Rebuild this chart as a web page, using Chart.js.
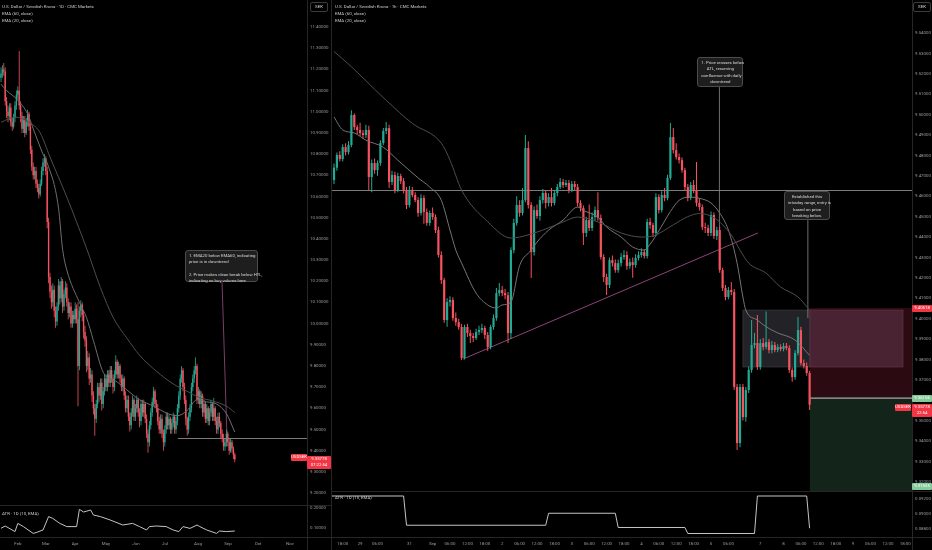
<!DOCTYPE html>
<html>
<head>
<meta charset="utf-8">
<script src="https://cdn.jsdelivr.net/npm/chart.js@4.4.1/dist/chart.umd.min.js"></script>
<style>
  html, body { margin: 0; padding: 0; background: #000; }
  #wrap { position: relative; width: 932px; height: 550px; overflow: hidden; background: #000;
          font-family: Roboto, "Liberation Sans", sans-serif; }
  canvas { position: absolute; }
  .sep { position: absolute; background: #262626; }
  .txt { position: absolute; color: #c9cbd1; font-size: 4.4px; line-height: 7px; white-space: nowrap; }
  .note { position: absolute; background: #1e1e1e; border: 1px solid #4c4c4c; border-radius: 3px; color: #d8d8d8;
          font-size: 4.3px; line-height: 6.3px; padding: 2px 3px; box-sizing: border-box; white-space: nowrap; }
  .tag { position: absolute; font-size: 4.3px; line-height: 6px; text-align: center; border-radius: 1px; white-space: nowrap; }
  .sek { position: absolute; width: 18px; height: 10px; border: 1px solid #3c3c3c; border-radius: 2px; box-sizing: border-box;
         color: #d1d4dc; font-size: 4.4px; line-height: 8px; text-align: center; }
</style>
</head>
<body>
<div id="wrap">
  <canvas id="dMain" width="331" height="505" style="left:0;top:0;width:331px;height:505px"></canvas>
  <canvas id="dAtr" width="331" height="45" style="left:0;top:505px;width:331px;height:45px"></canvas>
  <canvas id="hMain" width="600" height="491" style="left:332px;top:0;width:600px;height:491px"></canvas>
  <canvas id="hAtr" width="600" height="59" style="left:332px;top:491px;width:600px;height:59px"></canvas>

  <div class="sep" style="left:331px;top:0;width:1px;height:550px"></div>
  <div class="sep" style="left:307px;top:0;width:1px;height:550px"></div>
  <div class="sep" style="left:912px;top:0;width:1px;height:550px"></div>
  <div class="sep" style="left:0;top:505px;width:331px;height:1px"></div>
  <div class="sep" style="left:0;top:537px;width:331px;height:1px"></div>
  <div class="sep" style="left:332px;top:491px;width:600px;height:1px"></div>
  <div class="sep" style="left:332px;top:537px;width:600px;height:1px"></div>

  <div class="txt" style="left:2px;top:3px">U.S. Dollar / Swedish Krona · 1D · CMC Markets</div>
  <div class="txt" style="left:2px;top:10px">EMA (60, close)</div>
  <div class="txt" style="left:2px;top:17px">EMA (20, close)</div>
  <div class="txt" style="left:2px;top:510px">ATR · 1D (10, EMA)</div>
  <div class="txt" style="left:335px;top:3px">U.S. Dollar / Swedish Krona · 1h · CMC Markets</div>
  <div class="txt" style="left:335px;top:10px">EMA (60, close)</div>
  <div class="txt" style="left:335px;top:17px">EMA (20, close)</div>
  <div class="txt" style="left:335px;top:494px">ATR · 1D (10, EMA)</div>
  <div class="sek" style="left:310px;top:2px">SEK</div>
  <div class="sek" style="left:913px;top:2px">SEK</div>
</div>

<script>
// ---------- daily USDSEK (left) ----------
const dOpen = [11.16,11.18,11.20,11.19,11.05,11.00,10.98,11.02,10.95,10.93,
  10.97,11.03,11.08,11.10,11.03,10.98,10.92,10.96,10.90,10.95,
  10.99,10.93,10.82,10.74,10.70,10.72,10.66,10.64,10.61,10.66,
  10.72,10.76,10.78,10.72,10.48,10.22,10.15,10.10,10.16,10.06,
  10.01,10.08,10.18,10.12,10.20,10.08,10.14,10.17,10.10,10.05,
  10.08,10.00,10.04,10.02,10.07,10.02,9.80,10.06,10.09,10.04,
  9.96,9.92,9.80,9.84,9.74,9.76,9.66,9.60,9.55,9.62,
  9.70,9.66,9.72,9.62,9.68,9.74,9.70,9.76,9.72,9.78,
  9.74,9.70,9.76,9.82,9.76,9.80,9.74,9.70,9.74,9.66,
  9.60,9.64,9.56,9.52,9.58,9.64,9.56,9.60,9.64,9.58,
  9.54,9.62,9.58,9.62,9.55,9.48,9.44,9.52,9.58,9.63,
  9.68,9.62,9.60,9.54,9.50,9.55,9.48,9.44,9.50,9.56,
  9.52,9.55,9.50,9.53,9.56,9.50,9.54,9.60,9.66,9.74,
  9.78,9.70,9.64,9.55,9.50,9.56,9.60,9.70,9.74,9.78,
  9.80,9.64,9.68,9.62,9.66,9.58,9.62,9.55,9.60,9.54,
  9.58,9.62,9.56,9.60,9.54,9.50,9.56,9.53,9.48,9.46,
  9.42,9.44,9.48,9.44,9.40,9.44,9.41,9.38];
const dHigh = [11.21,11.22,11.23,11.21,11.07,11.03,11.04,11.04,10.97,10.99,
  11.05,11.10,11.12,11.287,11.05,11.00,10.98,10.98,10.97,11.01,
  11.00,10.95,10.84,10.76,10.74,10.74,10.68,10.66,10.68,10.74,
  10.78,10.80,10.79,10.74,10.50,10.24,10.18,10.19,10.18,10.08,
  10.10,10.21,10.20,10.22,10.21,10.16,10.20,10.19,10.12,10.10,
  10.10,10.06,10.06,10.10,10.09,10.10,10.08,10.11,10.10,10.06,
  9.99,9.94,9.87,9.86,9.79,9.78,9.68,9.62,9.64,9.72,
  9.72,9.74,9.74,9.70,9.76,9.76,9.78,9.78,9.80,9.80,
  9.76,9.78,9.85,9.83,9.82,9.81,9.76,9.76,9.75,9.68,
  9.66,9.66,9.58,9.60,9.66,9.65,9.62,9.66,9.65,9.60,
  9.64,9.64,9.64,9.63,9.57,9.50,9.54,9.60,9.65,9.70,
  9.69,9.64,9.62,9.56,9.57,9.57,9.50,9.52,9.58,9.58,
  9.57,9.56,9.55,9.58,9.57,9.56,9.62,9.68,9.76,9.80,
  9.79,9.72,9.66,9.56,9.58,9.62,9.72,9.76,9.80,9.84,
  9.81,9.70,9.69,9.68,9.67,9.64,9.63,9.62,9.61,9.60,
  9.64,9.63,9.65,9.61,9.56,9.58,9.58,9.54,9.50,9.48,
  9.46,9.50,9.49,9.46,9.46,9.45,9.42,9.39];
const dLow = [11.14,11.16,11.17,11.03,10.97,10.95,10.96,10.93,10.91,10.92,
  10.95,11.01,11.06,11.01,10.95,10.90,10.90,10.88,10.89,10.93,
  10.91,10.80,10.72,10.68,10.68,10.64,10.62,10.59,10.60,10.65,
  10.70,10.74,10.70,10.45,10.19,10.12,10.07,10.08,10.03,9.98,
  9.99,10.06,10.09,10.10,10.05,10.06,10.12,10.08,10.02,10.03,
  9.98,9.98,10.00,10.00,10.00,9.61,9.78,10.03,10.01,9.93,
  9.89,9.77,9.78,9.71,9.72,9.63,9.57,9.47,9.53,9.60,
  9.63,9.64,9.59,9.60,9.66,9.68,9.68,9.70,9.70,9.72,
  9.67,9.68,9.74,9.74,9.74,9.72,9.68,9.68,9.64,9.58,
  9.58,9.54,9.49,9.50,9.56,9.54,9.54,9.58,9.56,9.51,
  9.52,9.56,9.56,9.53,9.46,9.39,9.42,9.50,9.56,9.61,
  9.60,9.58,9.52,9.48,9.48,9.46,9.40,9.42,9.48,9.50,
  9.50,9.48,9.48,9.51,9.48,9.48,9.52,9.58,9.64,9.72,
  9.68,9.62,9.52,9.47,9.48,9.54,9.58,9.68,9.72,9.76,
  9.62,9.62,9.60,9.60,9.56,9.56,9.53,9.53,9.52,9.52,
  9.56,9.54,9.54,9.52,9.48,9.48,9.51,9.46,9.44,9.40,
  9.40,9.42,9.42,9.38,9.39,9.39,9.36,9.345];
const dClose = [11.18,11.20,11.19,11.05,11.00,10.98,11.02,10.95,10.93,10.97,
  11.03,11.08,11.10,11.03,10.98,10.92,10.96,10.90,10.95,10.99,
  10.93,10.82,10.74,10.70,10.72,10.66,10.64,10.61,10.66,10.72,
  10.76,10.78,10.72,10.48,10.22,10.15,10.10,10.16,10.06,10.01,
  10.08,10.18,10.12,10.20,10.08,10.14,10.17,10.10,10.05,10.08,
  10.00,10.04,10.02,10.07,10.02,9.80,10.06,10.09,10.04,9.96,
  9.92,9.80,9.84,9.74,9.76,9.66,9.60,9.55,9.62,9.70,
  9.66,9.72,9.62,9.68,9.74,9.70,9.76,9.72,9.78,9.74,
  9.70,9.76,9.82,9.76,9.80,9.74,9.70,9.74,9.66,9.60,
  9.64,9.56,9.52,9.58,9.64,9.56,9.60,9.64,9.58,9.54,
  9.62,9.58,9.62,9.55,9.48,9.44,9.52,9.58,9.63,9.68,
  9.62,9.60,9.54,9.50,9.55,9.48,9.44,9.50,9.56,9.52,
  9.55,9.50,9.53,9.56,9.50,9.54,9.60,9.66,9.74,9.78,
  9.70,9.64,9.55,9.50,9.56,9.60,9.70,9.74,9.78,9.80,
  9.64,9.68,9.62,9.66,9.58,9.62,9.55,9.60,9.54,9.58,
  9.62,9.56,9.60,9.54,9.50,9.56,9.53,9.48,9.46,9.42,
  9.44,9.48,9.44,9.40,9.44,9.41,9.38,9.358];

// EMA curves (bar index -> value)
const dEma60Idx = [0,10,21,28,35,47,61,71,80,90,99,111,123,133,142,151,161,167];
const dEma60 = [10.95,10.975,10.947,10.90,10.786,10.597,10.357,10.17,10.03,9.93,9.85,9.775,9.715,9.68,9.65,9.635,9.61,9.58];
const dEma20Idx = [0,4,12,19,23,30,33,41,44,47,56,61,66,73,83,90,99,109,119,126,133,140,147,154,161,167];
const dEma20 = [11.13,11.10,11.055,10.99,10.92,10.80,10.758,10.55,10.35,10.253,10.10,10.03,9.92,9.77,9.724,9.686,9.64,9.61,9.575,9.565,9.59,9.64,9.63,9.62,9.575,9.488];
const dAtrIdx = [0,3,10,12,16,23,25,30,34,37,42,47,54,56,59,64,66,71,78,87,94,99,104,106,111,118,123,127,130,135,140,142,147,154,156,161,167];
const dAtr = [0.0985,0.11,0.082,0.123,0.107,0.073,0.077,0.09,0.157,0.148,0.123,0.107,0.107,0.193,0.18,0.19,0.165,0.157,0.14,0.115,0.123,0.107,0.09,0.107,0.11,0.107,0.09,0.082,0.107,0.098,0.115,0.107,0.09,0.073,0.085,0.082,0.085];

const dPriceTicks = [9.2,9.3,9.4,9.5,9.6,9.7,9.8,9.9,10.0,10.1,10.2,10.3,10.4,10.5,10.6,10.7,10.8,10.9,11.0,11.1,11.2,11.3,11.4];
const dAtrTicks = [0.1,0.2];
const dMonthTicks = [12.1,32.1,52.9,75,96.4,117.1,140.7,162.1,183.6,206.4];
const dMonthLabels = ['Feb','Mar','Apr','May','Jun','Jul','Aug','Sep','Oct','Nov'];

// ---------- hourly USDSEK (right) ----------
const hOpen = [9.4679,9.4740,9.4802,9.4782,9.4841,9.4816,9.4851,9.4998,9.4939,9.4925,
  9.4910,9.4900,9.4925,9.4694,9.4763,9.4728,9.4763,9.4861,9.4920,9.4934,
  9.4670,9.4704,9.4630,9.4699,9.4674,9.4630,9.4557,9.4630,9.4606,9.4581,
  9.4518,9.4591,9.4523,9.4469,9.4518,9.4498,9.4434,9.4312,9.4189,9.3993,
  9.4081,9.4091,9.4003,9.3983,9.3959,9.3807,9.3959,9.3929,9.3915,9.3905,
  9.3934,9.3944,9.3954,9.3920,9.3861,9.3959,9.4003,9.4125,9.4140,9.4125,
  9.4115,9.3929,9.4336,9.4469,9.4557,9.4518,9.4581,9.4836,9.4557,9.4326,
  9.4532,9.4503,9.4581,9.4616,9.4567,9.4596,9.4567,9.4616,9.4645,9.4670,
  9.4655,9.4665,9.4630,9.4660,9.4645,9.4567,9.4542,9.4420,9.4483,9.4444,
  9.4498,9.4532,9.4493,9.4302,9.4204,9.4165,9.4287,9.4272,9.4238,9.4272,
  9.4302,9.4312,9.4258,9.4277,9.4263,9.4297,9.4312,9.4326,9.4307,9.4474,
  9.4459,9.4420,9.4596,9.4532,9.4606,9.4591,9.4689,9.4890,9.4826,9.4792,
  9.4777,9.4728,9.4645,9.4591,9.4655,9.4630,9.4567,9.4547,9.4449,9.4444,
  9.4420,9.4508,9.4405,9.4434,9.4238,9.4150,9.4106,9.4140,9.4130,9.3665,
  9.3390,9.3665,9.3517,9.3650,9.3748,9.3871,9.3880,9.3763,9.3880,9.3861,
  9.3885,9.3846,9.3871,9.3846,9.3861,9.3851,9.3866,9.3856,9.3748,9.3714,
  9.3831,9.3944,9.3782,9.3768,9.3733];
const hHigh = [9.4760,9.4815,9.4820,9.4855,9.4860,9.4870,9.5022,9.5005,9.4950,9.4960,
  9.4925,9.4950,9.4945,9.4780,9.4785,9.4775,9.4875,9.4935,9.4964,9.4950,
  9.4725,9.4720,9.4715,9.4710,9.4690,9.4645,9.4650,9.4645,9.4620,9.4595,
  9.4610,9.4605,9.4540,9.4530,9.4545,9.4510,9.4450,9.4330,9.4200,9.4100,
  9.4110,9.4105,9.4030,9.4000,9.3975,9.3970,9.3975,9.3945,9.3930,9.3950,
  9.3965,9.3975,9.3965,9.3935,9.3970,9.4020,9.4150,9.4175,9.4160,9.4145,
  9.4130,9.4350,9.4490,9.4600,9.4580,9.4640,9.4900,9.4870,9.4570,9.4550,
  9.4560,9.4600,9.4635,9.4630,9.4615,9.4640,9.4630,9.4660,9.4690,9.4685,
  9.4680,9.4680,9.4675,9.4675,9.4660,9.4580,9.4555,9.4500,9.4560,9.4520,
  9.4550,9.4620,9.4510,9.4315,9.4220,9.4300,9.4310,9.4290,9.4290,9.4320,
  9.4335,9.4330,9.4295,9.4300,9.4315,9.4330,9.4345,9.4340,9.4490,9.4495,
  9.4470,9.4615,9.4610,9.4625,9.4640,9.4705,9.4959,9.4934,9.4860,9.4810,
  9.4790,9.4740,9.4660,9.4670,9.4680,9.4768,9.4590,9.4560,9.4470,9.4460,
  9.4525,9.4520,9.4450,9.4450,9.4250,9.4165,9.4155,9.4180,9.4145,9.3680,
  9.3680,9.3680,9.3665,9.3765,9.3993,9.3930,9.4018,9.3900,9.3905,9.4035,
  9.3900,9.3890,9.3885,9.3875,9.3875,9.3880,9.3880,9.3870,9.3760,9.3845,
  9.4008,9.3960,9.3800,9.3785,9.3745];
const hLow = [9.4660,9.4725,9.4770,9.4770,9.4800,9.4805,9.4840,9.4925,9.4905,9.4895,
  9.4880,9.4885,9.4630,9.4620,9.4710,9.4700,9.4750,9.4850,9.4905,9.4640,
  9.4655,9.4615,9.4620,9.4660,9.4615,9.4537,9.4545,9.4595,9.4570,9.4500,
  9.4505,9.4465,9.4455,9.4455,9.4485,9.4420,9.4300,9.4170,9.3980,9.3960,
  9.4060,9.3990,9.3965,9.3945,9.3797,9.3800,9.3910,9.3880,9.3885,9.3895,
  9.3920,9.3930,9.3900,9.3841,9.3850,9.3945,9.3990,9.4110,9.4110,9.4095,
  9.3880,9.3900,9.4320,9.4455,9.4500,9.4505,9.4570,9.4540,9.4199,9.4310,
  9.4490,9.4480,9.4565,9.4540,9.4550,9.4550,9.4555,9.4600,9.4635,9.4640,
  9.4645,9.4615,9.4620,9.4630,9.4550,9.4525,9.4361,9.4400,9.4430,9.4430,
  9.4480,9.4480,9.4290,9.4180,9.4116,9.4150,9.4255,9.4225,9.4225,9.4255,
  9.4290,9.4240,9.4245,9.4200,9.4250,9.4285,9.4300,9.4295,9.4295,9.4440,
  9.4400,9.4405,9.4515,9.4520,9.4575,9.4580,9.4680,9.4810,9.4780,9.4760,
  9.4715,9.4630,9.4575,9.4580,9.4615,9.4550,9.4530,9.4435,9.4420,9.4405,
  9.4405,9.4390,9.4385,9.4225,9.4135,9.4090,9.4095,9.4115,9.3650,9.3356,
  9.3370,9.3500,9.3495,9.3635,9.3735,9.3855,9.3750,9.3750,9.3845,9.3850,
  9.3830,9.3830,9.3835,9.3835,9.3840,9.3840,9.3845,9.3735,9.3690,9.3700,
  9.3820,9.3770,9.3755,9.3720,9.3552];
const hClose = [9.4740,9.4802,9.4782,9.4841,9.4816,9.4851,9.4998,9.4939,9.4925,9.4910,
  9.4900,9.4925,9.4694,9.4763,9.4728,9.4763,9.4861,9.4920,9.4934,9.4670,
  9.4704,9.4630,9.4699,9.4674,9.4630,9.4557,9.4630,9.4606,9.4581,9.4518,
  9.4591,9.4523,9.4469,9.4518,9.4498,9.4434,9.4312,9.4189,9.3993,9.4081,
  9.4091,9.4003,9.3983,9.3959,9.3807,9.3959,9.3929,9.3915,9.3905,9.3934,
  9.3944,9.3954,9.3920,9.3861,9.3959,9.4003,9.4125,9.4140,9.4125,9.4115,
  9.3929,9.4336,9.4469,9.4557,9.4518,9.4581,9.4836,9.4557,9.4326,9.4532,
  9.4503,9.4581,9.4616,9.4567,9.4596,9.4567,9.4616,9.4645,9.4670,9.4655,
  9.4665,9.4630,9.4660,9.4645,9.4567,9.4542,9.4420,9.4483,9.4444,9.4498,
  9.4532,9.4493,9.4302,9.4204,9.4165,9.4287,9.4272,9.4238,9.4272,9.4302,
  9.4312,9.4258,9.4277,9.4263,9.4297,9.4312,9.4326,9.4307,9.4474,9.4459,
  9.4420,9.4596,9.4532,9.4606,9.4591,9.4689,9.4890,9.4826,9.4792,9.4777,
  9.4728,9.4645,9.4591,9.4655,9.4630,9.4567,9.4547,9.4449,9.4444,9.4420,
  9.4508,9.4405,9.4434,9.4238,9.4150,9.4106,9.4140,9.4130,9.3665,9.3390,
  9.3665,9.3517,9.3650,9.3748,9.3871,9.3880,9.3763,9.3880,9.3861,9.3885,
  9.3846,9.3871,9.3846,9.3861,9.3851,9.3866,9.3856,9.3748,9.3714,9.3831,
  9.3944,9.3782,9.3768,9.3733,9.3578];

const hEma60Idx = [0,6,10,18,27,37,40,44,53,61,64,72,79,84,91,99,106,110,117,122,126,131,137,140,143,149,154,160,164];
const hEma60 = [9.531,9.5235,9.518,9.507,9.4957,9.486,9.4777,9.463,9.4475,9.4395,9.440,9.4434,9.4474,9.4498,9.4474,9.442,9.440,9.4405,9.446,9.450,9.4515,9.4495,9.441,9.4336,9.4272,9.4223,9.4155,9.4106,9.4042];
const hEma20Idx = [0,3,7,11,17,22,29,33,37,40,42,44,49,53,56,58,61,64,68,70,74,79,84,86,91,94,99,103,107,109,112,116,119,123,126,130,133,136,139,141,142,146,149,153,159,164];
const hEma20 = [9.4988,9.4925,9.491,9.4875,9.484,9.4777,9.469,9.4645,9.458,9.4434,9.4336,9.4272,9.4125,9.4067,9.4052,9.4067,9.4081,9.4260,9.4336,9.4375,9.4434,9.4483,9.4547,9.453,9.4498,9.4449,9.44,9.4351,9.4336,9.4365,9.443,9.4525,9.458,9.4596,9.4590,9.4567,9.4518,9.4434,9.4272,9.4106,9.4042,9.3993,9.396,9.393,9.3895,9.382];
const hAtrIdx = [-1,24,25,73,74,97,98,121,122,145,146,163,164];
const hAtr = [0.0924,0.0924,0.0885,0.0885,0.0901,0.0901,0.0882,0.0882,0.0874,0.0874,0.0924,0.0924,0.0881];

const hPriceTicks = [9.32,9.33,9.34,9.35,9.37,9.38,9.39,9.40,9.41,9.42,9.43,9.44,9.45,9.46,9.47,9.48,9.49,9.50,9.51,9.52,9.53,9.54];
const hAtrTicks = [0.088,0.090,0.092];
const hTimeTicks = [3,9,15,26,34,40,46,52,58,64,70,76,82,88,94,100,106,112,118,124,130,136,147,155,161,167,173,179,185,191,197];
const hTimeLabels = ['18:00','29','06:00','31','Sep','06:00','12:00','18:00','2','06:00','12:00','18:00','3','06:00','12:00','18:00','4','06:00','12:00','18:00','5','06:00','7','8','06:00','12:00','18:00','9','06:00','12:00','18:00'];

// drawings placed in chart units (bar index, price)
const dHtl = { start: 126.4, price: 9.46 };
const dLink = [[157.9, 10.196], [161.4, 9.464]];
const hHtl = { price: 9.463 };
const hTrend = [[44.5, 9.3802], [146.2, 9.442]];
const hLink1 = [[132.9, 9.5135], [132.9, 9.436]];
const hLink2 = [[163.4, 9.4483], [163.4, 9.4003]];
const hPos = { start: 164.1, stop: 9.4052, entry: 9.3610, target: 9.3155 };
const hRange = { start: 141.0, end: 196.2, top: 9.4042, bottom: 9.3763 };

const UP = '#22ab94', DOWN = '#f7525f';
Chart.defaults.font.family = 'Roboto, "Liberation Sans", sans-serif';
Chart.defaults.font.size = 4.4;

function candleSets(open, high, low, close, bodyW, wickW) {
  const col = close.map((c, i) => (c >= open[i] ? UP : DOWN));
  return [
    { type: 'bar', data: high.map((h, i) => ({ x: i, y: [low[i], h] })), backgroundColor: col,
      barThickness: wickW, grouped: false, inflateAmount: 0, order: 3 },
    { type: 'bar', data: close.map((c, i) => ({ x: i, y: [open[i], c] })), backgroundColor: col,
      barThickness: bodyW, minBarLength: 0.8, grouped: false, inflateAmount: 0, order: 2 }
  ];
}

function lineSet(idx, vals, color, smooth) {
  return { type: 'line', data: idx.map((x, k) => ({ x: x, y: vals[k] })), borderColor: color, borderWidth: 1,
           pointRadius: 0, cubicInterpolationMode: smooth ? 'monotone' : 'default', tension: 0, order: 1 };
}

function priceAxis(min, max, ticks, width) {
  return {
    type: 'linear', position: 'right', min: min, max: max,
    grid: { display: false, drawTicks: false }, border: { display: false },
    ticks: { color: '#9a9ca3', padding: 3, autoSkip: false, callback: v => v.toFixed(5) },
    afterBuildTicks: s => { s.ticks = ticks.map(v => ({ value: v })); },
    afterFit: s => { s.width = width; s.paddingTop = 0; s.paddingBottom = 0; }
  };
}

function timeAxis(min, max, ticks, labels, show) {
  const axis = {
    type: 'linear', min: min, max: max, offset: false, display: show,
    grid: { display: false, drawTicks: false }, border: { display: false },
    ticks: { color: '#9a9ca3', padding: 4, maxRotation: 0, autoSkip: false,
             callback: v => { const k = ticks.indexOf(v); return k >= 0 ? labels[k] : ''; } },
    afterBuildTicks: s => { s.ticks = ticks.map(v => ({ value: v })); }
  };
  if (show) axis.afterFit = s => { s.height = 13; s.paddingLeft = 0; s.paddingRight = 0; };
  return axis;
}

function makeChart(id, type, sets, xAxis, yAxis, plugins) {
  return new Chart(document.getElementById(id), {
    type: type,
    data: { datasets: sets },
    options: {
      responsive: false, maintainAspectRatio: false, animation: false, events: [],
      layout: { padding: 0 },
      plugins: { legend: { display: false }, tooltip: { enabled: false } },
      scales: { x: xAxis, y: yAxis }
    },
    plugins: plugins || []
  });
}

function seg(ctx, x, y, a, b) {
  ctx.beginPath();
  ctx.moveTo(x.getPixelForValue(a[0]), y.getPixelForValue(a[1]));
  ctx.lineTo(x.getPixelForValue(b[0]), y.getPixelForValue(b[1]));
  ctx.stroke();
}

const dDrawings = {
  id: 'dDrawings',
  beforeDatasetsDraw(chart) {
    const { ctx, chartArea: a, scales: { x, y } } = chart;
    ctx.save();
    ctx.beginPath(); ctx.rect(a.left, a.top, a.right - a.left, a.bottom - a.top); ctx.clip();
    ctx.strokeStyle = '#7c7c7c'; ctx.lineWidth = 1;
    const yy = Math.round(y.getPixelForValue(dHtl.price)) + 0.5;
    ctx.beginPath(); ctx.moveTo(x.getPixelForValue(dHtl.start), yy); ctx.lineTo(a.right, yy); ctx.stroke();
    ctx.strokeStyle = '#9b4d88'; ctx.lineWidth = 0.8;
    seg(ctx, x, y, dLink[0], dLink[1]);
    ctx.restore();
  }
};

const hDrawings = {
  id: 'hDrawings',
  beforeDatasetsDraw(chart) {
    const { ctx, chartArea: a, scales: { x, y } } = chart;
    ctx.save();
    ctx.beginPath(); ctx.rect(a.left, a.top, a.right - a.left, a.bottom - a.top); ctx.clip();
    const px0 = x.getPixelForValue(hPos.start);
    const yStop = y.getPixelForValue(hPos.stop), yEntry = y.getPixelForValue(hPos.entry), yTgt = y.getPixelForValue(hPos.target);
    ctx.fillStyle = '#2c0a12'; ctx.fillRect(px0, yStop, a.right - px0, yEntry - yStop);
    ctx.fillStyle = '#13251a'; ctx.fillRect(px0, yEntry, a.right - px0, yTgt - yEntry);
    const rx0 = x.getPixelForValue(hRange.start), rx1 = x.getPixelForValue(hRange.end);
    const ry0 = y.getPixelForValue(hRange.top), ry1 = y.getPixelForValue(hRange.bottom);
    ctx.fillStyle = '#232327'; ctx.fillRect(rx0, ry0, px0 - rx0, ry1 - ry0);
    ctx.fillStyle = '#4a2333'; ctx.fillRect(px0, ry0, rx1 - px0, ry1 - ry0);
    ctx.strokeStyle = '#3a3a40'; ctx.lineWidth = 0.7; ctx.strokeRect(rx0, ry0, px0 - rx0, ry1 - ry0);
    ctx.strokeStyle = '#6a3147'; ctx.strokeRect(px0, ry0, rx1 - px0, ry1 - ry0);
    ctx.strokeStyle = '#a8a8a8'; ctx.lineWidth = 1.2;
    ctx.beginPath(); ctx.moveTo(px0, yEntry); ctx.lineTo(a.right, yEntry); ctx.stroke();
    ctx.strokeStyle = '#7c7c7c'; ctx.lineWidth = 1;
    const yh = Math.round(y.getPixelForValue(hHtl.price)) + 0.5;
    ctx.beginPath(); ctx.moveTo(a.left, yh); ctx.lineTo(a.right, yh); ctx.stroke();
    ctx.strokeStyle = '#9b4d88'; ctx.lineWidth = 0.9;
    seg(ctx, x, y, hTrend[0], hTrend[1]);
    ctx.strokeStyle = '#8a8a8a'; ctx.lineWidth = 0.8;
    seg(ctx, x, y, hLink1[0], hLink1[1]);
    seg(ctx, x, y, hLink2[0], hLink2[1]);
    ctx.restore();
  }
};

const dMain = makeChart('dMain', 'bar',
  candleSets(dOpen, dHigh, dLow, dClose, 1.4, 0.8).concat([
    lineSet(dEma60Idx, dEma60, '#4d4d4d', true),
    lineSet(dEma20Idx, dEma20, '#6e6e6e', true)]),
  timeAxis(-0.714, 218.57, [], [], false), priceAxis(9.1433, 11.5276, dPriceTicks, 24), [dDrawings]);

const dAtrChart = makeChart('dAtr', 'line', [lineSet(dAtrIdx, dAtr, '#c4c4c4', false)],
  timeAxis(-0.714, 218.57, dMonthTicks, dMonthLabels, true), priceAxis(0.055, 0.215, dAtrTicks, 24));

const hMain = makeChart('hMain', 'bar',
  candleSets(hOpen, hHigh, hLow, hClose, 2.2, 1).concat([
    lineSet(hEma60Idx, hEma60, '#4d4d4d', true),
    lineSet(hEma20Idx, hEma20, '#757575', true)]),
  timeAxis(-0.69, 199.31, [], [], false), priceAxis(9.3155, 9.5562, hPriceTicks, 20), [hDrawings]);

const hAtrChart = makeChart('hAtr', 'line', [lineSet(hAtrIdx, hAtr, '#c4c4c4', false)],
  timeAxis(-0.69, 199.31, hTimeTicks, hTimeLabels, true), priceAxis(0.086933, 0.093067, hAtrTicks, 20));

// ---------- text overlays placed through the chart scales ----------
const wrap = document.getElementById('wrap');
function at(chart, i, p) {
  const c = chart.canvas;
  return { x: c.offsetLeft + chart.scales.x.getPixelForValue(i), y: c.offsetTop + chart.scales.y.getPixelForValue(p) };
}
function note(chart, i, p, w, h, html, align) {
  const q = at(chart, i, p);
  const d = document.createElement('div');
  d.className = 'note';
  Object.assign(d.style, { left: q.x + 'px', top: q.y + 'px', width: w + 'px', height: h + 'px', textAlign: align });
  d.innerHTML = html;
  wrap.appendChild(d);
}
function tag(chart, left, w, p, lines, bg, fg, maxBottom) {
  const q = at(chart, 0, p);
  const hgt = lines.length * 6 + 1;
  let top = q.y - 3.5;
  if (maxBottom !== undefined) top = Math.min(top, maxBottom - hgt);
  const d = document.createElement('div');
  d.className = 'tag';
  Object.assign(d.style, { left: left + 'px', top: top + 'px', width: w + 'px', height: hgt + 'px', background: bg, color: fg });
  d.innerHTML = lines.join('<br>');
  wrap.appendChild(d);
}

note(dMain, 131.4, 10.347, 73, 32,
  '1. EMA20 below EMA60, indicating<br>price is in downtrend<br><br>2. Price makes clean break below HTL,<br>indicating no buy volume here', 'left');
note(hMain, 125.3, 9.5282, 46, 30, '1. Price crosses below<br>ATL, resuming<br>confluence with daily<br>downtrend', 'center');
note(hMain, 155.2, 9.4625, 46, 29, 'Established this<br>intraday range, entry is<br>based on price<br>breaking below.', 'center');

const dLast = dClose[dClose.length - 1], hLast = hClose[hClose.length - 1];
tag(dMain, 291, 16, dLast + 0.01, ['USDSEK'], '#f23645', '#fff');
tag(dMain, 307, 24, dLast, ['9.35778', '07:22:54'], '#f23645', '#fff');
tag(hMain, 912, 20, hPos.stop, ['9.40518'], '#f23645', '#fff');
tag(hMain, 912, 20, hPos.entry, ['9.36156'], '#86c99b', '#fff');
tag(hMain, 912, 20, hLast - 0.0012, ['9.35778', '22:54'], '#f23645', '#fff');
tag(hMain, 895, 16, hLast - 0.0012, ['USDSEK'], '#f23645', '#fff');
tag(hMain, 912, 20, hPos.target, ['9.31535'], '#86c99b', '#fff', 490);
</script>
</body>
</html>
